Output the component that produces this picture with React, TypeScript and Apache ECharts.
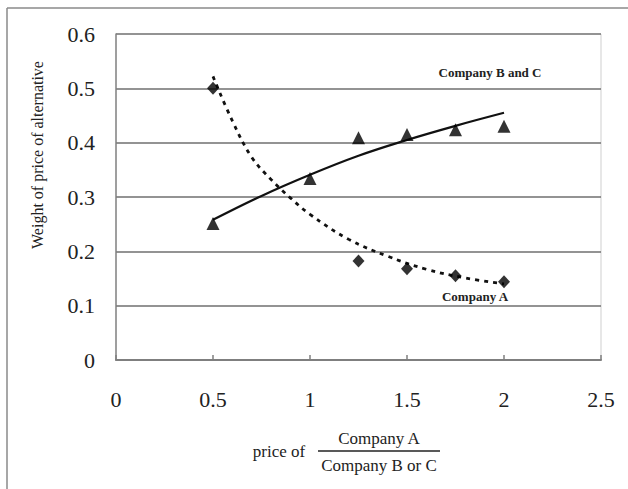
import React, { useEffect, useRef } from "react";
import * as echarts from "echarts";

// Observed points
const companyAX = [0.5, 1.25, 1.5, 1.75, 2.0];
const companyAY = [0.5, 0.182, 0.168, 0.155, 0.144];
const companyBCX = [0.5, 1.0, 1.25, 1.5, 1.75, 2.0];
const companyBCY = [0.251, 0.334, 0.409, 0.415, 0.424, 0.43];

// Trend curves
const trendAX = [0.5, 0.6, 0.7, 0.8, 0.9, 1.0, 1.2, 1.4, 1.6, 1.8, 2.0];
const trendAY = [0.522, 0.44, 0.373, 0.332, 0.298, 0.268, 0.222, 0.191, 0.167, 0.151, 0.14];
const trendBCX = [0.5, 0.75, 1.0, 1.25, 1.5, 1.75, 2.0];
const trendBCY = [0.258, 0.302, 0.341, 0.376, 0.405, 0.431, 0.455];

const xTicks = { min: 0, max: 2.5, interval: 0.5 };
const yTicks = { min: 0, max: 0.6, interval: 0.1 };

const yTitle = "Weight of price of alternative";
const xTitlePrefix = "price of";
const xTitleNum = "Company A";
const xTitleDen = "Company B or C";
const labelBC = "Company B and C";
const labelA = "Company A";

const zip = (xs: number[], ys: number[]) => xs.map((x, i) => [x, ys[i]]);

const FONT = "'Liberation Serif', 'Times New Roman', serif";

export default function App() {
  const ref = useRef<HTMLDivElement>(null);
  useEffect(() => {
    document.body.style.margin = "0";
    if (!ref.current) return;
    const chart = echarts.init(ref.current, undefined, { renderer: "svg" });
    chart.setOption({
      animation: false,
      backgroundColor: "#ffffff",
      grid: { left: 116, right: 27, top: 34, bottom: 129, containLabel: false },
      xAxis: {
        type: "value",
        min: xTicks.min,
        max: xTicks.max,
        interval: xTicks.interval,
        axisLine: { show: true, lineStyle: { color: "#7f7f7f", width: 2 } },
        axisTick: { show: true, inside: true, length: 5, lineStyle: { color: "#7f7f7f", width: 1.5 } },
        axisLabel: { margin: 28, fontFamily: FONT, fontSize: 22, color: "#222" },
        splitLine: { show: false },
      },
      yAxis: {
        type: "value",
        min: yTicks.min,
        max: yTicks.max,
        interval: yTicks.interval,
        axisLine: { show: true, lineStyle: { color: "#7f7f7f", width: 1.5 } },
        axisTick: { show: false },
        axisLabel: { margin: 21, fontFamily: FONT, fontSize: 22, color: "#222" },
        splitLine: { show: true, lineStyle: { color: "#6f6f6f", width: 1.5 } },
      },
      graphic: [
        { type: "line", shape: { x1: 7, y1: 8, x2: 628, y2: 8 }, style: { stroke: "#8a8a8a", lineWidth: 1.5 } },
        { type: "line", shape: { x1: 7, y1: 8, x2: 7, y2: 489 }, style: { stroke: "#8a8a8a", lineWidth: 1.5 } },
        { type: "line", shape: { x1: 601, y1: 34, x2: 601, y2: 360 }, style: { stroke: "#cfcfcf", lineWidth: 1 } },
        {
          type: "text",
          x: 37,
          y: 155,
          rotation: Math.PI / 2,
          style: { text: yTitle, font: `16px ${FONT}`, fill: "#222", align: "center", verticalAlign: "middle" },
        },
        {
          type: "text",
          x: 279,
          y: 451,
          style: { text: xTitlePrefix, font: `17px ${FONT}`, fill: "#222", align: "center", verticalAlign: "middle" },
        },
        {
          type: "text",
          x: 379,
          y: 438,
          style: { text: xTitleNum, font: `17px ${FONT}`, fill: "#222", align: "center", verticalAlign: "middle" },
        },
        { type: "line", shape: { x1: 318, y1: 451, x2: 440, y2: 451 }, style: { stroke: "#222", lineWidth: 1.5 } },
        {
          type: "text",
          x: 379,
          y: 465,
          style: { text: xTitleDen, font: `17px ${FONT}`, fill: "#222", align: "center", verticalAlign: "middle" },
        },
        {
          type: "text",
          x: 490,
          y: 72,
          style: { text: labelBC, font: `bold 13px ${FONT}`, fill: "#222", align: "center", verticalAlign: "middle" },
        },
        {
          type: "text",
          x: 475,
          y: 296,
          style: { text: labelA, font: `bold 13px ${FONT}`, fill: "#222", align: "center", verticalAlign: "middle" },
        },
      ],
      series: [
        {
          type: "line",
          data: zip(trendBCX, trendBCY),
          smooth: 0.4,
          showSymbol: false,
          lineStyle: { color: "#111", width: 2.2 },
          z: 2,
        },
        {
          type: "line",
          data: zip(trendAX, trendAY),
          smooth: 0.4,
          showSymbol: false,
          lineStyle: { color: "#111", width: 2.8, type: [4, 5] },
          z: 2,
        },
        {
          type: "scatter",
          data: zip(companyBCX, companyBCY),
          symbol: "triangle",
          symbolSize: [13, 13],
          itemStyle: { color: "#000" },
          z: 3,
        },
        {
          type: "scatter",
          data: zip(companyAX, companyAY),
          symbol: "diamond",
          symbolSize: [12, 13],
          itemStyle: { color: "#000" },
          z: 3,
        },
      ],
    });
    return () => chart.dispose();
  }, []);
  return <div ref={ref} style={{ width: 628, height: 489 }} />;
}
